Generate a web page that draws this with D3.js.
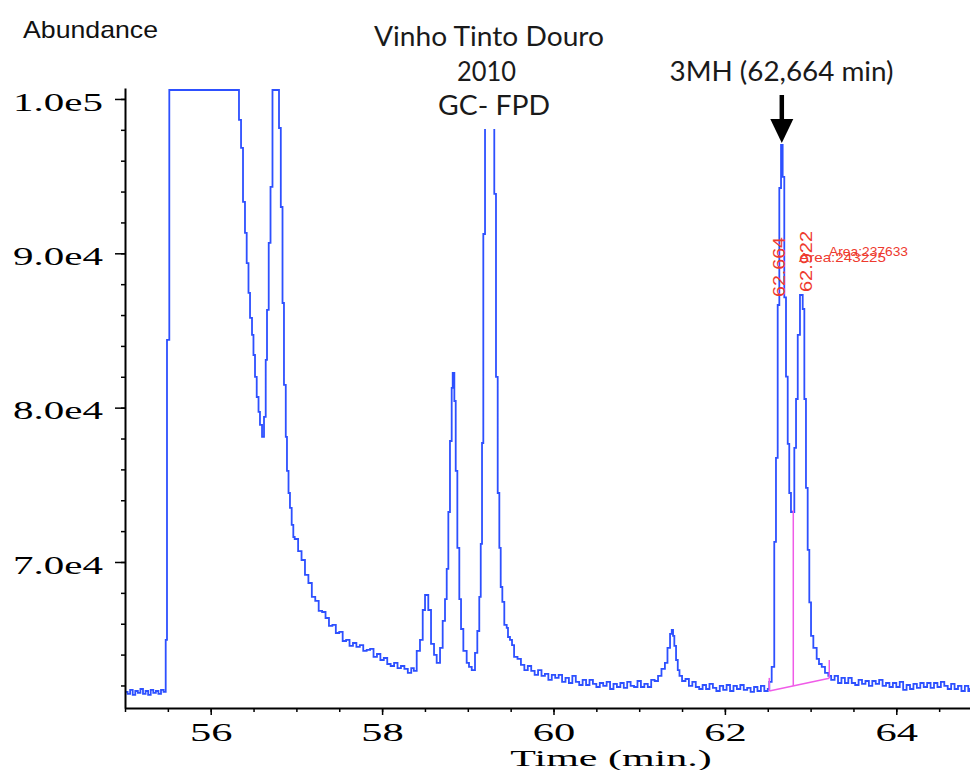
<!DOCTYPE html>
<html><head><meta charset="utf-8">
<script src="https://cdn.jsdelivr.net/npm/d3@7"></script>
<style>
body{margin:0;background:#fff}
svg{display:block}
</style>
</head><body>
<svg id="chart" width="970" height="770"></svg>
<script>
// ---- data: [time (min), abundance] ----
const signalStart = [
 [55.00,61580],[55.03,61450],[55.06,61710],[55.09,61390],[55.12,61640],[55.15,61520],
 [55.18,61770],[55.21,61450],[55.24,61640],[55.27,61390],[55.30,61710],[55.33,61520],
 [55.36,61640],[55.39,61450],[55.42,61710],[55.45,61580],[55.475,64950],[55.490,84390],
 [55.517,100580],[56.330,98640],[56.354,96830],[56.377,93330],[56.400,91320],[56.420,89370],
 [56.441,87430],[56.459,85810],[56.482,84710],[56.499,83410],[56.517,81990],[56.537,80690],
 [56.558,79720],[56.575,78880],[56.599,78100],[56.622,79400],[56.642,83090],[56.657,86330],
 [56.677,90670],[56.698,94300],[56.721,100580],[56.797,98120],[56.818,93000],[56.838,86780],
 [56.855,81470],[56.876,78100],[56.890,75900],[56.908,74470],[56.925,73500],[56.945,72400],
 [56.964,71620]
];
const signalTail = [
 [56.98,71490],[57.02,70710],[57.06,70130],[57.10,69160],[57.14,68640],[57.18,67740],
 [57.22,67480],[57.26,66830],[57.30,66760],[57.34,66370],[57.38,65860],[57.42,65920],
 [57.46,65400],[57.50,65470],[57.54,64880],[57.58,64950],[57.62,64560],[57.66,64750],
 [57.70,64500],[57.74,64620],[57.78,64240],[57.82,64300],[57.86,64370],[57.90,63850],
 [57.94,64040],[57.98,63650],[58.02,63780],[58.06,63390],[58.10,63260],[58.14,63460],
 [58.18,63130],[58.22,63260],[58.26,63070],[58.30,62810],[58.34,63130]
];
const signalMid = [
 [58.37,62940],[58.404,64240],[58.442,64950],[58.474,66890],[58.501,67860],[58.539,66890],
 [58.571,64690],[58.606,63980],[58.637,63460],[58.676,64430],[58.707,66180],[58.734,67600],
 [58.754,69550],[58.773,73240],[58.792,77840],[58.812,81280],[58.824,82250],[58.843,80430],
 [58.859,75900],[58.878,70910],[58.901,67600],[58.921,65660],[58.948,64240],[58.987,63460],
 [59.014,63200],[59.046,63000],[59.084,64110],[59.111,65530],[59.134,67740],[59.151,71170],
 [59.166,77710],[59.181,91250],[59.201,100580],[59.309,93850],[59.329,81990],[59.349,74470],
 [59.368,70910],[59.384,68380],[59.403,67410],[59.426,65920],[59.454,65730],[59.469,65140],
 [59.492,64950],[59.516,64620]
];
const signalBase = [
 [59.54,63850],[59.58,63720],[59.62,63330],[59.66,63000],[59.70,63260],[59.74,62940],
 [59.78,62680],[59.82,63000],[59.86,62620],[59.90,62750],[59.94,62360],[59.98,62680],
 [60.02,62490],[60.06,62680],[60.10,62230],[60.14,62490],[60.18,62160],[60.22,62620],
 [60.26,62230],[60.30,62030],[60.34,62360],[60.38,62030],[60.42,62360],[60.46,62100],
 [60.50,61900],[60.54,62160],[60.58,61970],[60.62,62230],[60.66,61770],[60.70,62100],
 [60.74,61900],[60.78,62160],[60.82,61840],[60.86,62230],[60.90,61970],[60.94,61900],
 [60.98,62290],[61.02,61900],[61.06,62100],[61.10,61900],[61.14,62360],[61.18,62290],
 [61.22,62620],[61.26,63070],[61.30,63460],[61.33,64430],[61.36,65340],[61.38,65600],
 [61.395,65210],[61.41,64560],[61.43,63650],[61.45,63000],[61.47,62620],[61.50,62290],
 [61.54,62420],[61.58,61970],[61.62,62230],[61.66,61900],[61.70,61770],[61.74,62030],
 [61.78,61770],[61.82,62100],[61.86,61840],[61.90,61640],[61.94,61970],[61.98,61710],
 [62.02,62030],[62.06,61640],[62.10,61970],[62.14,61770],[62.18,62030],[62.22,61710],
 [62.26,61840],[62.30,61580],[62.34,61900],[62.38,61640],[62.42,61970],[62.46,61640],
 [62.50,61770]
];
const signal3MH = [
 [62.518,62230],[62.546,63200],[62.576,71300],[62.596,76740],[62.616,86650],[62.635,94230],
 [62.655,97020],[62.674,94950],[62.693,87140],[62.713,82010],[62.733,77650],[62.751,74470],
 [62.771,73240],[62.810,77390],[62.830,80560],[62.850,84710],[62.876,87300],[62.908,86390],
 [62.927,80560],[62.946,74800],[62.966,70780],[62.985,67380],[63.005,65210],[63.032,64430],
 [63.071,63720],[63.098,63390],[63.130,63200],[63.168,62810],[63.207,62620]
];
const signalEnd = [
 [63.24,62360],[63.28,62620],[63.32,62160],[63.36,62490],[63.40,62160],[63.44,62490],
 [63.48,62160],[63.52,62030],[63.56,62360],[63.60,62100],[63.64,62290],[63.68,61970],
 [63.72,62290],[63.76,62100],[63.80,62360],[63.84,61970],[63.88,62160],[63.92,61900],
 [63.96,62160],[64.00,61900],[64.04,62230],[64.08,61710],[64.12,62030],[64.16,61770],
 [64.20,62100],[64.24,61840],[64.28,62160],[64.32,61900],[64.36,62160],[64.40,61840],
 [64.44,62160],[64.48,61900],[64.52,62230],[64.56,61970],[64.60,61770],[64.64,62100],
 [64.68,61770],[64.72,61970],[64.76,61640],[64.80,61970],[64.84,61640],[64.86,61840]
];
const xTickValues = [56, 58, 60, 62, 64];
const xTickLabels = ["56", "58", "60", "62", "64"];
const yTickValues = [70000, 80000, 90000, 100000];
const yTickLabels = ["7.0e4", "8.0e4", "9.0e4", "1.0e5"];
const titleLines = ["Vinho Tinto Douro", "2010", "GC- FPD"];
const markerLabel = "3MH (62,664 min)";
const markerTime = 62.664;
const peakTimes = [62.664, 62.922];
const peakLabels = ["62.664", "62.922"];
const areaLabels = ["Area:243225", "Area:237633"];
const baselineTimes = [62.518, 63.218];
const baselineValues = [61640, 62470];
const dropTime = 62.798;
const dropTop = 73370;
const edgeTickTops = [62490, 63650];

// ---- chart ----
const svg = d3.select("#chart");
const x = d3.scaleLinear().domain([55, 64.86]).range([125, 970]);
const y = d3.scaleLinear().domain([60540, 100710]).range([708, 88]);
const signal = [].concat(signalStart, signalTail, signalMid, signalBase, signal3MH, signalEnd);

svg.append("defs").append("clipPath").attr("id", "plot")
  .append("rect").attr("x", 125).attr("y", 88).attr("width", 845).attr("height", 620);

// trace
svg.append("path").datum(signal)
  .attr("clip-path", "url(#plot)")
  .attr("fill", "none").attr("stroke", "#2d50ff").attr("stroke-width", 1.8)
  .attr("d", d3.line().x(d => x(d[0])).y(d => y(d[1])).curve(d3.curveStepAfter));

// integration baseline (magenta)
const mag = "#f05ce8";
const baseLine = baselineTimes.map((t, i) => [t, baselineValues[i]]);
svg.append("path").datum(baseLine).attr("fill", "none").attr("stroke", mag).attr("stroke-width", 1.5)
  .attr("d", d3.line().x(d => x(d[0])).y(d => y(d[1])));
const interp = d3.scaleLinear().domain(baselineTimes).range(baselineValues);
svg.append("line").attr("x1", x(dropTime)).attr("x2", x(dropTime))
  .attr("y1", y(dropTop)).attr("y2", y(interp(dropTime)))
  .attr("stroke", mag).attr("stroke-width", 1.5);
baselineTimes.forEach((t, i) => {
  svg.append("line").attr("x1", x(t)).attr("x2", x(t))
    .attr("y1", y(edgeTickTops[i])).attr("y2", y(baselineValues[i]))
    .attr("stroke", mag).attr("stroke-width", 1.5);
});

// white box behind title (hides the off-scale top of the big peak)
svg.append("rect").attr("x", 420).attr("y", 0).attr("width", 150).attr("height", 129).attr("fill", "#fff");

// axes
const gy = svg.append("g").attr("transform", "translate(125,0)");
gy.append("g").call(d3.axisLeft(y).tickValues(d3.range(62000, 100001, 2000)).tickSize(4).tickFormat(""))
  .call(g => g.select(".domain").remove());
gy.append("g").call(d3.axisLeft(y).tickValues(yTickValues).tickSize(10).tickSizeOuter(0)
    .tickFormat((d, i) => yTickLabels[i]))
  .call(g => g.selectAll("text").attr("x", 0).attr("dy", "0.45em")
    .attr("transform", "translate(-22,0) scale(1.64,1)")
    .attr("font-family", "'Liberation Serif', 'Times New Roman', serif").attr("font-size", 25).attr("fill", "#000"));

const gx = svg.append("g").attr("transform", "translate(0,708)");
gx.append("g").call(d3.axisBottom(x).tickValues(d3.range(55, 64.9, 0.5)).tickSize(4).tickFormat(""))
  .call(g => g.select(".domain").remove());
gx.append("g").call(d3.axisBottom(x).tickValues(xTickValues).tickSize(7).tickSizeOuter(0)
    .tickFormat((d, i) => xTickLabels[i]))
  .call(g => g.selectAll("text").attr("y", 0).attr("dy", 0)
    .attr("transform", "translate(0,33) scale(1.7,1)")
    .attr("font-family", "'Liberation Serif', 'Times New Roman', serif").attr("font-size", 25).attr("fill", "#000"));

svg.selectAll(".domain").attr("stroke", "#000").attr("stroke-width", 2);
svg.selectAll(".tick line").attr("stroke", "#000").attr("stroke-width", 1.5);

// axis titles
svg.append("text").attr("transform", "translate(611,766) scale(1.75,1)").attr("text-anchor", "middle")
  .attr("font-family", "'Liberation Serif', 'Times New Roman', serif").attr("font-size", 24).attr("fill", "#000")
  .text("Time (min.)");
svg.append("text").attr("x", 23).attr("y", 38).attr("textLength", 135).attr("lengthAdjust", "spacingAndGlyphs")
  .attr("font-family", "'Liberation Sans', Arial, sans-serif").attr("font-size", 24).attr("fill", "#111")
  .text("Abundance");

// title block
const titleFont = "Lato, 'Open Sans', sans-serif";
const titlePos = [[489, 46, 230], [486.5, 81, 59], [494, 115, 112]];
titleLines.forEach((s, i) => {
  svg.append("text").attr("x", titlePos[i][0]).attr("y", titlePos[i][1])
    .attr("text-anchor", "middle").attr("textLength", titlePos[i][2]).attr("lengthAdjust", "spacingAndGlyphs")
    .attr("font-family", titleFont).attr("font-size", 27).attr("fill", "#1a1a1a").text(s);
});
svg.append("text").attr("x", 781.5).attr("y", 81).attr("text-anchor", "middle")
  .attr("textLength", 224).attr("lengthAdjust", "spacingAndGlyphs")
  .attr("font-family", titleFont).attr("font-size", 27).attr("fill", "#1a1a1a").text(markerLabel);

// arrow
const ax = x(markerTime);
svg.append("line").attr("x1", ax).attr("x2", ax).attr("y1", 95).attr("y2", 124)
  .attr("stroke", "#000").attr("stroke-width", 4.5);
svg.append("path").attr("d", `M${ax - 11.5},119 L${ax + 11.5},119 L${ax},143 Z`).attr("fill", "#000");

// peak annotations (red)
const red = "#ee3a2e";
const peakOffsets = [[3, 297, 60], [8, 292, 61]];
peakTimes.forEach((t, i) => {
  svg.append("text")
    .attr("transform", `translate(${x(t) + peakOffsets[i][0]},${peakOffsets[i][1]}) rotate(-90)`)
    .attr("textLength", peakOffsets[i][2]).attr("lengthAdjust", "spacingAndGlyphs")
    .attr("font-family", "'Liberation Sans', Arial, sans-serif").attr("font-size", 17).attr("fill", red)
    .text(peakLabels[i]);
});
const areaPos = [[799, 262, 87], [829, 256, 79]];
areaLabels.forEach((s, i) => {
  svg.append("text").attr("x", areaPos[i][0]).attr("y", areaPos[i][1])
    .attr("textLength", areaPos[i][2]).attr("lengthAdjust", "spacingAndGlyphs")
    .attr("font-family", "'Liberation Sans', Arial, sans-serif").attr("font-size", 13).attr("fill", red)
    .text(s);
});
</script>
</body></html>
